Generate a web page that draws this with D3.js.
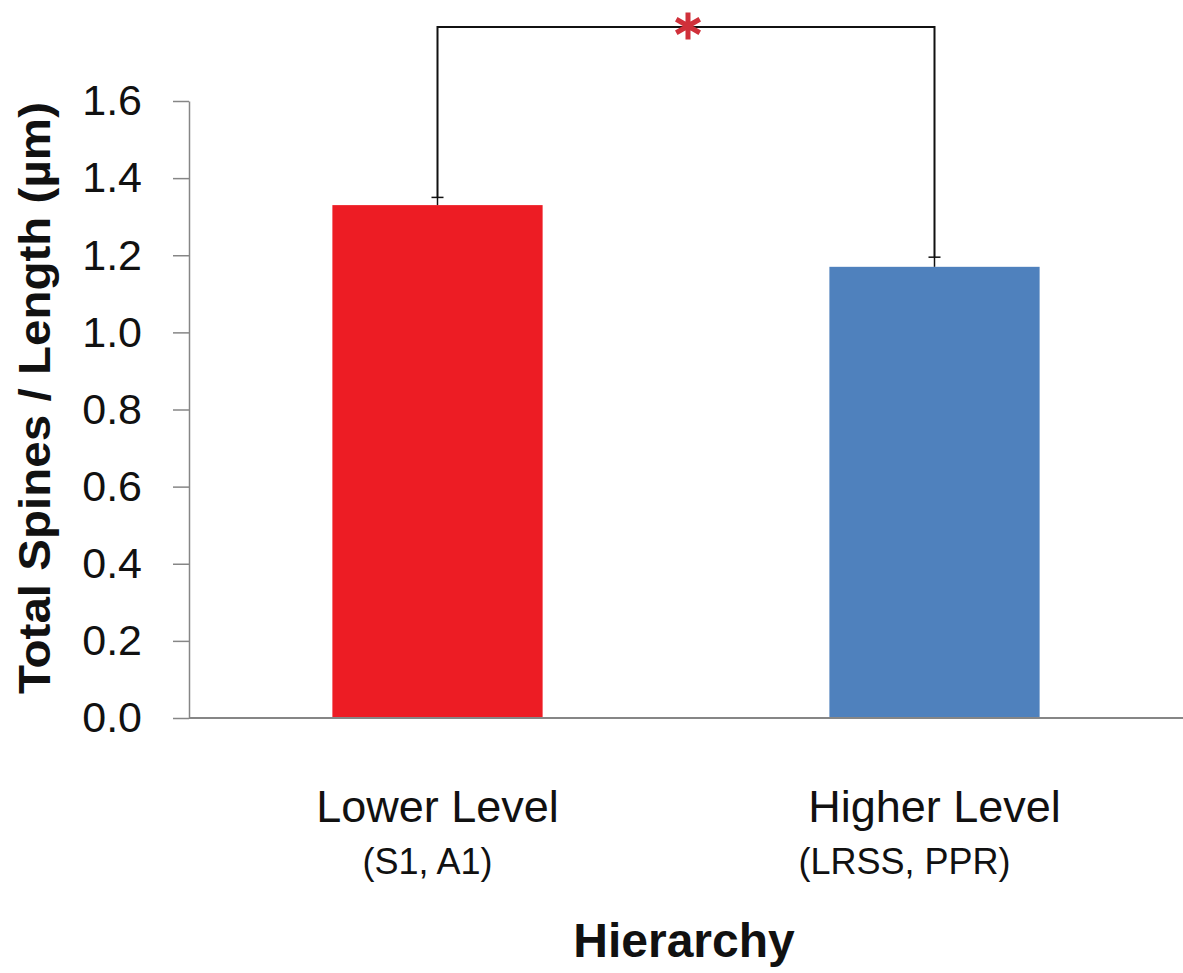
<!DOCTYPE html>
<html>
<head>
<meta charset="utf-8">
<script src="https://cdn.jsdelivr.net/npm/d3@7"></script>
<style>
  html, body { margin: 0; padding: 0; background: #fff; }
  svg { display: block; }
</style>
</head>
<body>
<svg id="chart" width="1183" height="973"></svg>
<script>
// Spine density by cortical hierarchy level
const categories = ["Lower Level", "Higher Level"];
const subLabels = ["(S1, A1)", "(LRSS, PPR)"];
const values = [1.33, 1.17];
const errors = [0.02, 0.025];
const barColors = ["#ED1C24", "#4F81BD"];
const yTicks = [0.0, 0.2, 0.4, 0.6, 0.8, 1.0, 1.2, 1.4, 1.6];

const svg = d3.select("#chart");
const plot = { left: 189, right: 1183, top: 101, bottom: 718 };
const font = "'Liberation Sans', Arial, sans-serif";

const x = d3.scaleBand()
  .domain(categories)
  .range([plot.left, plot.right])
  .paddingInner(0.577)
  .paddingOuter(0.2885);

const y = d3.scaleLinear()
  .domain([0, 1.6])
  .range([plot.bottom, plot.top]);

// Bars
svg.append("g").selectAll("rect")
  .data(categories)
  .join("rect")
  .attr("x", d => x(d))
  .attr("width", x.bandwidth())
  .attr("y", (d, i) => y(values[i]))
  .attr("height", (d, i) => y(0) - y(values[i]))
  .attr("fill", (d, i) => barColors[i]);

// Y axis
const yAxis = svg.append("g")
  .attr("transform", `translate(${plot.left},0)`)
  .call(d3.axisLeft(y).tickValues(yTicks).tickFormat(d3.format(".1f")).tickSize(16).tickPadding(31).tickSizeOuter(0));
yAxis.select(".domain").attr("stroke", "#868686").attr("stroke-width", 1.5);
yAxis.selectAll(".tick line").attr("stroke", "#868686").attr("stroke-width", 1.5);
yAxis.selectAll(".tick text")
  .attr("fill", "#111")
  .style("font-family", font)
  .style("font-size", "43px");

// X baseline
svg.append("line")
  .attr("x1", plot.left).attr("x2", plot.right)
  .attr("y1", y(0)).attr("y2", y(0))
  .attr("stroke", "#868686").attr("stroke-width", 2);

// Upper error bars
const cx = d => x(d) + x.bandwidth() / 2;
const errG = svg.append("g").attr("stroke", "#111").attr("stroke-width", 1.5);
categories.forEach((c, i) => {
  const top = y(values[i] + errors[i]);
  errG.append("line").attr("x1", cx(c)).attr("x2", cx(c)).attr("y1", y(values[i])).attr("y2", top);
  errG.append("line").attr("x1", cx(c) - 6).attr("x2", cx(c) + 6).attr("y1", top).attr("y2", top);
});

// Significance bracket
const bracketY = 27;
const bracketPts = [
  [cx(categories[0]), y(values[0] + errors[0])],
  [cx(categories[0]), bracketY],
  [cx(categories[1]), bracketY],
  [cx(categories[1]), y(values[1] + errors[1])]
];
svg.append("path")
  .attr("d", d3.line()(bracketPts))
  .attr("fill", "none")
  .attr("stroke", "#111")
  .attr("stroke-width", 2);

// Significance marker (asterisk)
svg.append("path")
  .attr("transform", `translate(${(cx(categories[0]) + cx(categories[1])) / 2 + 2},${bracketY - 1})`)
  .attr("d", d3.symbol(d3.symbolAsterisk, 520)())
  .attr("fill", "none")
  .attr("stroke", "#D0303A")
  .attr("stroke-width", 5);

// Category labels
svg.append("g").selectAll("text")
  .data(categories)
  .join("text")
  .attr("x", d => cx(d))
  .attr("y", 822)
  .attr("text-anchor", "middle")
  .attr("fill", "#111")
  .style("font-family", font)
  .style("font-size", "45px")
  .text(d => d);

const subOffsets = [-10, -30];
svg.append("g").selectAll("text")
  .data(subLabels)
  .join("text")
  .attr("x", (d, i) => cx(categories[i]) + subOffsets[i])
  .attr("y", 874)
  .attr("text-anchor", "middle")
  .attr("fill", "#111")
  .style("font-family", font)
  .style("font-size", "36px")
  .text(d => d);

// Axis titles
svg.append("text")
  .attr("x", 684)
  .attr("y", 957)
  .attr("text-anchor", "middle")
  .attr("fill", "#111")
  .style("font-family", font)
  .style("font-weight", "bold")
  .style("font-size", "48px")
  .text("Hierarchy");

svg.append("text")
  .attr("transform", "translate(50,398) rotate(-90)")
  .attr("text-anchor", "middle")
  .attr("fill", "#111")
  .style("font-family", font)
  .style("font-weight", "bold")
  .style("font-size", "44px")
  .attr("textLength", 592)
  .attr("lengthAdjust", "spacingAndGlyphs")
  .text("Total Spines / Length (µm)");
</script>
</body>
</html>
